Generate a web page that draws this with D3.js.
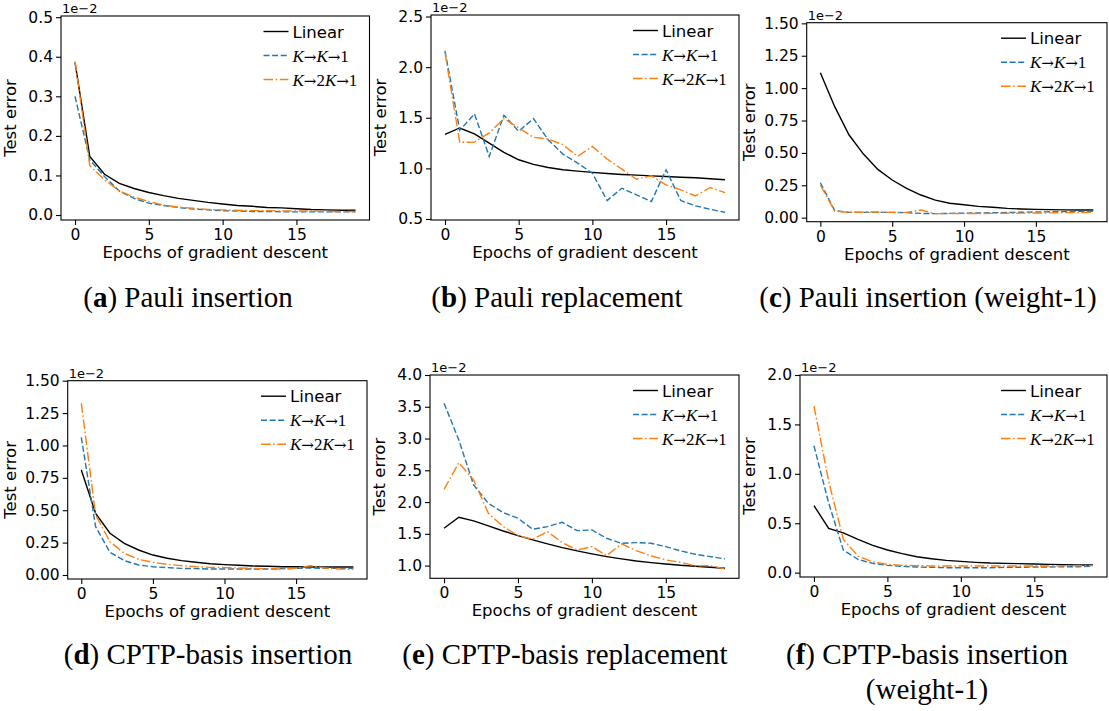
<!DOCTYPE html>
<html lang="en">
<head>
  <meta charset="UTF-8">
  <title>Test error vs epochs</title>
  <script src="https://d3js.org/d3.v7.min.js"></script>
  <style>
    body { margin: 0; background: #fff; }
    svg { display: block; }
    .tick text { font-family: "DejaVu Sans", sans-serif; font-size: 15.5px; fill: #000; }
    .lbl { font-family: "DejaVu Sans", sans-serif; font-size: 16.5px; fill: #000; }
    .off { font-family: "DejaVu Sans", sans-serif; font-size: 13px; fill: #000; }
    .cap { font-family: "Liberation Serif", "DejaVu Serif", serif; font-size: 29px; fill: #000; }
    .math { font-family: "Liberation Serif", "DejaVu Serif", serif; font-size: 17px; fill: #000; }
    .arrow { font-family: "DejaVu Serif", serif; font-size: 15px; }
  </style>
</head>
<body>
<svg width="1109" height="711"></svg>
<script>
  // epochs on the x axis
  const epochs = [0, 1, 2, 3, 4, 5, 6, 7, 8, 9, 10, 11, 12, 13, 14, 15, 16, 17, 18, 19];

  // values are in units of 1e-2
  // (a) Pauli insertion
  const aLinear = [0.386, 0.148, 0.103, 0.080, 0.067, 0.057, 0.049, 0.042, 0.037, 0.032, 0.028, 0.024, 0.022, 0.019, 0.018, 0.016, 0.014, 0.013, 0.012, 0.012];
  const aKK1    = [0.300, 0.139, 0.097, 0.061, 0.042, 0.030, 0.024, 0.019, 0.015, 0.013, 0.011, 0.010, 0.009, 0.009, 0.008, 0.008, 0.008, 0.008, 0.008, 0.008];
  const aK2K1   = [0.388, 0.125, 0.089, 0.061, 0.045, 0.034, 0.025, 0.020, 0.017, 0.014, 0.013, 0.012, 0.011, 0.011, 0.010, 0.010, 0.010, 0.009, 0.009, 0.009];

  // (b) Pauli replacement
  const bLinear = [1.336, 1.399, 1.340, 1.250, 1.158, 1.085, 1.039, 1.009, 0.986, 0.973, 0.960, 0.950, 0.940, 0.933, 0.926, 0.920, 0.913, 0.907, 0.897, 0.887];
  const bKK1    = [2.160, 1.376, 1.538, 1.118, 1.525, 1.366, 1.492, 1.283, 1.141, 1.052, 0.953, 0.682, 0.804, 0.738, 0.672, 0.986, 0.682, 0.629, 0.596, 0.566];
  const bK2K1   = [2.143, 1.257, 1.260, 1.350, 1.492, 1.400, 1.307, 1.290, 1.234, 1.118, 1.217, 1.092, 0.993, 0.893, 0.926, 0.837, 0.788, 0.728, 0.811, 0.761];

  // (c) Pauli insertion (weight-1)
  const cLinear = [1.119, 0.857, 0.638, 0.491, 0.373, 0.291, 0.226, 0.175, 0.136, 0.111, 0.100, 0.087, 0.080, 0.072, 0.067, 0.064, 0.062, 0.060, 0.059, 0.059];
  const cKK1    = [0.270, 0.054, 0.041, 0.041, 0.041, 0.041, 0.039, 0.033, 0.031, 0.033, 0.035, 0.036, 0.038, 0.040, 0.042, 0.044, 0.046, 0.047, 0.049, 0.050];
  const cK2K1   = [0.252, 0.051, 0.041, 0.044, 0.044, 0.041, 0.041, 0.059, 0.031, 0.031, 0.032, 0.032, 0.033, 0.034, 0.035, 0.036, 0.037, 0.039, 0.040, 0.042];

  // (d) CPTP-basis insertion
  const dLinear = [0.810, 0.476, 0.322, 0.244, 0.193, 0.154, 0.129, 0.111, 0.098, 0.087, 0.080, 0.075, 0.069, 0.067, 0.064, 0.064, 0.062, 0.062, 0.062, 0.062];
  const dKK1    = [1.062, 0.373, 0.175, 0.111, 0.077, 0.064, 0.057, 0.051, 0.049, 0.046, 0.046, 0.046, 0.046, 0.046, 0.049, 0.051, 0.054, 0.051, 0.051, 0.051];
  const dK2K1   = [1.325, 0.463, 0.257, 0.167, 0.121, 0.098, 0.082, 0.072, 0.064, 0.059, 0.057, 0.054, 0.051, 0.049, 0.046, 0.051, 0.072, 0.054, 0.046, 0.044];

  // (e) CPTP-basis replacement
  const eLinear = [1.587, 1.760, 1.703, 1.624, 1.545, 1.472, 1.404, 1.341, 1.283, 1.231, 1.184, 1.142, 1.105, 1.073, 1.047, 1.026, 1.005, 0.990, 0.974, 0.958];
  const eKK1    = [3.554, 2.977, 2.269, 1.980, 1.834, 1.745, 1.572, 1.614, 1.682, 1.551, 1.561, 1.430, 1.351, 1.362, 1.351, 1.299, 1.231, 1.178, 1.142, 1.105];
  const eK2K1   = [2.200, 2.620, 2.348, 1.823, 1.614, 1.472, 1.414, 1.535, 1.362, 1.246, 1.299, 1.157, 1.341, 1.236, 1.152, 1.089, 1.052, 0.995, 1.000, 0.948];

  // (f) CPTP-basis insertion (weight-1)
  const fLinear = [0.679, 0.447, 0.403, 0.336, 0.276, 0.229, 0.192, 0.161, 0.141, 0.124, 0.114, 0.104, 0.097, 0.094, 0.091, 0.087, 0.084, 0.081, 0.077, 0.077];
  const fKK1    = [1.284, 0.706, 0.229, 0.134, 0.094, 0.074, 0.064, 0.057, 0.054, 0.050, 0.050, 0.050, 0.050, 0.054, 0.054, 0.057, 0.057, 0.060, 0.060, 0.064];
  const fK2K1   = [1.687, 0.924, 0.336, 0.168, 0.108, 0.084, 0.074, 0.071, 0.067, 0.067, 0.067, 0.067, 0.067, 0.067, 0.067, 0.067, 0.067, 0.070, 0.070, 0.071];

  const xTicks = [0, 5, 10, 15];
  const yTicksA = [0.0, 0.1, 0.2, 0.3, 0.4, 0.5];
  const yTicksB = [0.5, 1.0, 1.5, 2.0, 2.5];
  const yTicksC = [0.00, 0.25, 0.50, 0.75, 1.00, 1.25, 1.50];
  const yTicksD = [0.00, 0.25, 0.50, 0.75, 1.00, 1.25, 1.50];
  const yTicksE = [1.0, 1.5, 2.0, 2.5, 3.0, 3.5, 4.0];
  const yTicksF = [0.0, 0.5, 1.0, 1.5, 2.0];

  const seriesNames = ["Linear", "K→K→1", "K→2K→1"];
  const captionTags = ["a", "b", "c", "d", "e", "f"];
  const captionTexts = [["Pauli insertion"], ["Pauli replacement"], ["Pauli insertion (weight-1)"],
                        ["CPTP-basis insertion"], ["CPTP-basis replacement"], ["CPTP-basis insertion", "(weight-1)"]];

  // layout of each subplot (pixel box + axis limits)
  const panels = [
    { l: 61,  r: 369.5, t: 16,    b: 220,   dom: [-0.0126, 0.503], ticks: yTicksA, dec: 1, data: [aLinear, aKK1, aK2K1], capX: 188, capY: 307 },
    { l: 431, r: 739,   t: 15,    b: 220,   dom: [0.49, 2.515],    ticks: yTicksB, dec: 1, data: [bLinear, bKK1, bK2K1], capX: 557, capY: 307 },
    { l: 806.7, r: 1107, t: 22.7, b: 221.7, dom: [-0.031, 1.505],  ticks: yTicksC, dec: 2, data: [cLinear, cKK1, cK2K1], capX: 928, capY: 307 },
    { l: 67.7, r: 367,  t: 380.7, b: 579,   dom: [-0.031, 1.5],    ticks: yTicksD, dec: 2, data: [dLinear, dKK1, dK2K1], capX: 208, capY: 664 },
    { l: 430, r: 739,   t: 375,   b: 578.3, dom: [0.8, 4.0],       ticks: yTicksE, dec: 1, data: [eLinear, eKK1, eK2K1], capX: 565, capY: 664 },
    { l: 800, r: 1107,  t: 375,   b: 577,   dom: [-0.044, 2.0],    ticks: yTicksF, dec: 1, data: [fLinear, fKK1, fK2K1], capX: 927, capY: 664 }
  ];

  const colors = ["#000000", "#1f77b4", "#ff7f0e"];
  const dashes = [null, "6,2.6", "9.5,2.6,1.6,2.6"];

  const svg = d3.select("svg");

  panels.forEach((p, i) => {
    const x = d3.scaleLinear().domain([-0.95, 19.95]).range([p.l, p.r]);
    const y = d3.scaleLinear().domain(p.dom).range([p.b, p.t]);
    const g = svg.append("g");

    // axes
    const xa = g.append("g")
      .attr("transform", `translate(0,${p.b})`)
      .call(d3.axisBottom(x).tickValues(xTicks).tickSize(5).tickPadding(4).tickSizeOuter(0));
    const ya = g.append("g")
      .attr("transform", `translate(${p.l},0)`)
      .call(d3.axisLeft(y).tickValues(p.ticks).tickSize(5).tickPadding(3).tickSizeOuter(0)
        .tickFormat(d3.format(`.${p.dec}f`)));
    [xa, ya].forEach(a => {
      a.select(".domain").remove();
      a.selectAll(".tick line").attr("stroke", "#000").attr("stroke-width", 1.1);
    });

    // lines
    const line = d3.line().x((d, j) => x(epochs[j])).y(d => y(d));
    p.data.forEach((vals, k) => {
      g.append("path")
        .datum(vals)
        .attr("d", line)
        .attr("fill", "none")
        .attr("stroke", colors[k])
        .attr("stroke-width", 1.4)
        .attr("stroke-dasharray", dashes[k]);
    });

    // frame
    g.append("rect")
      .attr("x", p.l).attr("y", p.t)
      .attr("width", p.r - p.l).attr("height", p.b - p.t)
      .attr("fill", "none").attr("stroke", "#000").attr("stroke-width", 1.1);

    // offset text
    g.append("text").attr("class", "off")
      .attr("x", p.l + 1).attr("y", p.t - 3)
      .text("1e\u22122");

    // axis labels
    g.append("text").attr("class", "lbl")
      .attr("x", (p.l + p.r) / 2).attr("y", p.b + 38)
      .attr("text-anchor", "middle")
      .text("Epochs of gradient descent");
    const yOff = p.dec === 2 ? 52 : 45;
    g.append("text").attr("class", "lbl")
      .attr("transform", `translate(${p.l - yOff},${(p.t + p.b) / 2}) rotate(-90)`)
      .attr("text-anchor", "middle")
      .text("Test error");

    // legend
    seriesNames.forEach((name, k) => {
      const ly = p.t + 15.5 + k * 24;
      g.append("line")
        .attr("x1", p.r - 106).attr("x2", p.r - 81)
        .attr("y1", ly).attr("y2", ly)
        .attr("stroke", colors[k]).attr("stroke-width", 1.4)
        .attr("stroke-dasharray", dashes[k]);
      if (k === 0) {
        g.append("text").attr("class", "lbl")
          .attr("x", p.r - 77).attr("y", ly + 6)
          .text(name);
      } else {
        const t = g.append("text").attr("class", "math")
          .attr("x", p.r - 77).attr("y", ly + 6);
        // italic K, upright arrows and digits
        Array.from(name).forEach(ch => {
          t.append("tspan")
            .attr("class", ch === "→" ? "arrow" : null)
            .attr("font-style", ch === "K" ? "italic" : "normal")
            .text(ch);
        });
      }
    });

    // caption
    const cap = svg.append("text").attr("class", "cap")
      .attr("x", p.capX).attr("y", p.capY)
      .attr("text-anchor", "middle");
    cap.append("tspan").text("(");
    cap.append("tspan").attr("font-weight", "bold").text(captionTags[i]);
    cap.append("tspan").text(") " + captionTexts[i][0]);
    if (captionTexts[i].length > 1) {
      svg.append("text").attr("class", "cap")
        .attr("x", p.capX).attr("y", p.capY + 35)
        .attr("text-anchor", "middle")
        .text(captionTexts[i][1]);
    }
  });
</script>
</body>
</html>
